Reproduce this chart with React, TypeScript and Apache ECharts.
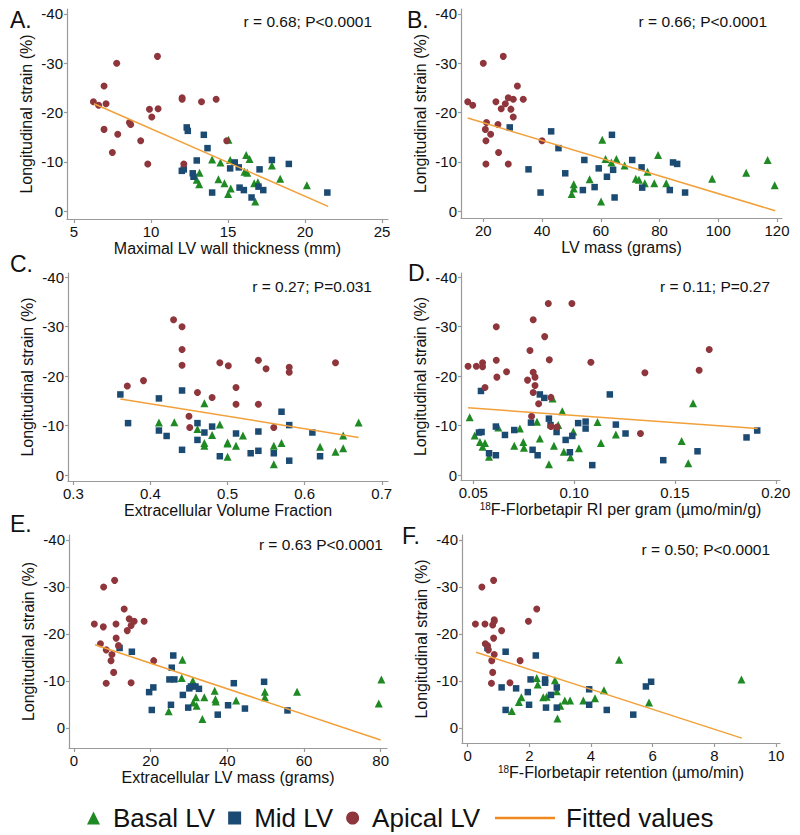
import { useEffect, useRef } from "react";
import * as echarts from "echarts";

// ---------- DATA (x, longitudinal strain %) ----------
const yTicks = [-40, -30, -20, -10, 0];

const aXTicks = [5, 10, 15, 20, 25];
const aBasal = [[13.15,-7.8],[12.97,-6.4],[13.13,-5.5],[13.97,-10.5],[14.38,-6.5],[14.51,-9.9],[14.77,-5.7],[15.01,-3.5],[15.18,-4.6],[15.14,-10.4],[15.03,-14.5],[16.18,-11.4],[16.4,-10.6],[16.07,-8.0],[16.25,-7.8],[16.7,-5.7],[16.94,-5.9],[16.77,-2.0],[17.85,-9.3],[18.39,-6.6],[20.12,-5.3]];
const aMid = [[12.0,-8.2],[12.13,-8.5],[12.32,-17.0],[12.39,-16.3],[12.71,-7.7],[12.76,-7.0],[12.97,-10.3],[13.43,-15.5],[13.67,-12.8],[13.97,-3.8],[15.14,-8.7],[15.44,-9.9],[15.7,-8.9],[15.75,-4.8],[16.03,-4.3],[16.53,-2.8],[16.98,-5.0],[17.05,-8.5],[17.29,-4.3],[17.85,-10.4],[18.95,-9.6],[21.45,-3.8]];
const aApical = [[6.26,-22.2],[6.6,-21.5],[6.95,-25.4],[7.08,-21.8],[6.95,-16.6],[7.77,-30.0],[7.49,-11.9],[7.84,-15.6],[8.6,-18.0],[8.68,-17.6],[9.33,-14.3],[9.79,-9.6],[9.9,-20.7],[10.05,-19.1],[10.46,-20.8],[10.42,-31.4],[12.02,-23.0],[12.02,-22.7],[12.13,-9.6],[13.28,-22.2],[14.23,-22.7],[14.92,-14.3]];
const aFit = [[6.3,-21.8],[21.5,-1.0]];

const bXTicks = [20, 40, 60, 80, 100, 120];
const bBasal = [[50.1,-3.5],[50.8,-4.6],[50.8,-5.5],[56.2,-6.5],[60.5,-14.5],[60.1,-2.0],[61.6,-10.6],[63.6,-9.9],[65.3,-10.6],[68.1,-9.3],[71.9,-6.6],[73.0,-6.4],[75.0,-5.7],[75.9,-8.0],[78.2,-5.7],[79.5,-11.4],[82.3,-5.7],[97.9,-6.6],[109.5,-7.8],[116.8,-10.4],[119.2,-5.3]];
const bMid = [[29.0,-17.0],[35.4,-8.5],[39.5,-3.8],[43.1,-16.2],[45.6,-12.8],[47.9,-7.7],[53.9,-4.3],[54.4,-10.4],[57.9,-4.9],[59.3,-8.7],[62.1,-7.0],[63.8,-15.5],[64.2,-8.4],[64.7,-2.8],[70.7,-10.4],[73.9,-8.9],[74.1,-4.8],[83.5,-4.3],[84.6,-9.9],[86.0,-9.6],[88.7,-3.8]];
const bApical = [[14.7,-22.2],[16.4,-21.5],[20.0,-30.0],[20.7,-16.6],[20.9,-14.3],[20.9,-9.6],[21.1,-18.0],[22.5,-15.6],[24.3,-22.2],[25.0,-17.6],[25.2,-11.9],[26.1,-20.8],[26.8,-31.4],[27.5,-21.8],[28.5,-23.0],[28.5,-9.6],[29.4,-20.7],[30.2,-22.7],[30.2,-19.1],[31.6,-25.4],[33.6,-22.7],[40.0,-14.3]];
const bFit = [[14.7,-18.9],[119.4,-0.1]];

const cXTicks = [0.3, 0.4, 0.5, 0.6, 0.7];
const cBasal = [[0.411,-10.6],[0.431,-10.7],[0.470,-14.5],[0.461,-9.3],[0.470,-6.5],[0.470,-5.9],[0.480,-8.1],[0.490,-10.2],[0.500,-6.6],[0.500,-6.4],[0.500,-3.7],[0.511,-5.9],[0.520,-8.0],[0.560,-5.9],[0.560,-2.2],[0.570,-6.5],[0.620,-5.7],[0.640,-4.7],[0.650,-5.4],[0.650,-8.0],[0.670,-10.6]];
const cMid = [[0.361,-16.3],[0.371,-10.5],[0.411,-15.5],[0.411,-9.0],[0.421,-7.9],[0.441,-17.1],[0.441,-5.1],[0.461,-10.5],[0.461,-7.1],[0.470,-8.6],[0.480,-9.8],[0.490,-3.8],[0.511,-8.4],[0.530,-4.4],[0.540,-8.8],[0.540,-4.9],[0.560,-4.4],[0.570,-12.8],[0.580,-10.1],[0.580,-2.9],[0.610,-8.6],[0.620,-3.8]];
const cApical = [[0.370,-18.0],[0.391,-19.1],[0.430,-31.4],[0.441,-30.0],[0.441,-25.4],[0.441,-22.2],[0.450,-11.9],[0.451,-9.6],[0.461,-16.7],[0.480,-15.7],[0.490,-22.7],[0.501,-22.1],[0.511,-17.7],[0.511,-14.3],[0.540,-23.2],[0.540,-14.3],[0.550,-21.5],[0.560,-9.6],[0.580,-21.8],[0.580,-20.8],[0.640,-22.7]];
const cFit = [[0.361,-15.4],[0.670,-7.6]];

const dXTicks = [0.05, 0.1, 0.15, 0.2];
const dBasal = [[0.0482,-11.7],[0.0507,-8.0],[0.0533,-6.7],[0.0546,-5.7],[0.0558,-6.5],[0.0578,-3.7],[0.0624,-9.6],[0.0703,-5.9],[0.0731,-9.4],[0.0748,-6.7],[0.0751,-5.5],[0.0816,-10.8],[0.0830,-7.4],[0.0875,-2.2],[0.0893,-15.5],[0.0900,-5.9],[0.0921,-10.1],[0.0941,-12.9],[0.0949,-4.7],[0.0982,-3.6],[0.0996,-8.8],[0.1024,-5.4],[0.1116,-10.7],[0.1133,-6.5],[0.1207,-8.2],[0.1533,-6.9],[0.1566,-2.4],[0.1590,-14.5]];
const dMid = [[0.0538,-17.0],[0.0528,-8.6],[0.0541,-8.7],[0.0578,-4.4],[0.0612,-9.8],[0.0612,-4.0],[0.0657,-8.1],[0.0703,-9.1],[0.0794,-5.1],[0.0786,-10.6],[0.0819,-4.0],[0.0830,-16.3],[0.0852,-15.6],[0.0875,-11.4],[0.0883,-10.1],[0.0913,-8.7],[0.0958,-7.1],[0.0979,-4.6],[0.0991,-7.9],[0.1020,-10.5],[0.1057,-10.8],[0.1057,-9.4],[0.1090,-2.0],[0.1177,-16.3],[0.1207,-10.2],[0.1255,-8.4],[0.1442,-3.0],[0.1612,-4.8],[0.1855,-7.6],[0.1908,-9.0]];
const dApical = [[0.0474,-22.0],[0.0515,-22.0],[0.0546,-22.7],[0.0546,-21.9],[0.0558,-17.7],[0.0614,-30.0],[0.0614,-23.2],[0.0617,-19.8],[0.0665,-20.9],[0.0769,-19.2],[0.0781,-25.2],[0.0789,-11.9],[0.0797,-31.4],[0.0797,-20.8],[0.0797,-16.7],[0.0806,-19.8],[0.0806,-18.1],[0.0824,-14.4],[0.0854,-28.0],[0.0872,-34.7],[0.0877,-23.3],[0.0885,-15.7],[0.0885,-9.8],[0.0915,-9.7],[0.0989,-34.7],[0.1083,-22.8],[0.1329,-8.4],[0.1351,-20.7],[0.1620,-21.2],[0.1670,-25.4]];
const dFit = [[0.0474,-13.6],[0.191,-9.4]];

const eXTicks = [0, 20, 40, 60, 80];
const eBasal = [[24.7,-3.5],[28.3,-14.5],[28.1,-10.6],[31.0,-10.0],[31.1,-5.4],[31.8,-6.5],[32.0,-4.7],[33.5,-1.9],[34.0,-6.5],[36.7,-7.9],[36.9,-6.1],[37.0,-5.6],[42.3,-5.8],[49.8,-7.7],[49.8,-6.5],[58.2,-7.7],[79.5,-5.2],[80.2,-10.3]];
const eMid = [[11.9,-17.0],[15.1,-16.2],[19.6,-7.6],[20.3,-3.8],[20.7,-8.6],[24.9,-10.3],[25.3,-4.9],[25.5,-12.8],[25.9,-15.4],[26.2,-10.3],[28.4,-7.0],[29.8,-4.3],[30.1,-8.4],[30.5,-8.8],[31.7,-8.8],[32.6,-8.3],[37.5,-2.8],[40.2,-4.8],[41.7,-9.5],[44.6,-4.1],[49.6,-9.8],[55.7,-3.7]];
const eApical = [[5.3,-22.1],[6.9,-17.9],[7.65,-21.5],[7.74,-30.0],[8.4,-16.6],[8.4,-9.5],[9.65,-14.3],[9.9,-15.6],[10.35,-11.8],[10.6,-31.4],[10.96,-22.1],[11.0,-19.1],[11.6,-17.5],[13.1,-25.3],[13.9,-20.7],[14.4,-23.2],[14.9,-21.8],[14.9,-9.6],[15.7,-22.7],[18.3,-22.7],[20.8,-14.3]];
const eFit = [[5.5,-17.7],[80.0,2.6]];

const fXTicks = [0, 2, 4, 6, 8, 10];
const fBasal = [[1.43,-3.6],[1.66,-5.5],[1.74,-6.5],[2.24,-10.6],[2.27,-9.2],[2.45,-6.5],[2.56,-6.6],[2.83,-10.1],[2.89,-7.8],[2.91,-2.0],[3.0,-4.7],[3.15,-5.8],[3.32,-5.8],[3.75,-5.8],[4.13,-6.3],[4.42,-8.0],[4.91,-14.5],[5.88,-5.4],[8.88,-10.3]];
const fMid = [[0.64,-17.0],[1.23,-16.2],[1.23,-3.8],[1.10,-8.6],[1.57,-8.4],[1.95,-7.6],[1.99,-4.9],[2.04,-10.3],[2.21,-15.4],[2.51,-10.3],[2.51,-9.6],[2.54,-4.3],[2.70,-7.0],[2.89,-8.6],[2.89,-4.3],[3.94,-8.2],[3.94,-4.9],[4.51,-3.8],[5.37,-2.8],[5.78,-8.8],[5.95,-9.8]];
const fApical = [[0.25,-22.1],[0.46,-30.0],[0.56,-22.1],[0.57,-17.9],[0.64,-17.5],[0.67,-16.6],[0.77,-9.5],[0.78,-14.3],[0.81,-11.8],[0.81,-21.9],[0.84,-31.4],[0.86,-23.0],[0.86,-22.7],[0.84,-19.1],[0.86,-15.6],[1.10,-20.7],[1.37,-9.6],[1.70,-14.3],[1.97,-22.7],[2.24,-25.3]];
const fFit = [[0.27,-16.1],[8.89,2.2]];

const seriesNames = ["Basal LV", "Mid LV", "Apical LV", "Fitted values"];

// ---------- STYLE ----------
const FONT = "'Liberation Sans', Arial, Helvetica, sans-serif";
const GREEN = "#1f8a24";
const BLUE = "#1b4a72";
const RED = "#8e363c";
const ORANGE = "#f2a03a";
const AXIS = "#9a9a9a";
const TXT = "#111111";

const panels = [
  { letter: "A.", stat: "r = 0.68; P<0.0001", xName: "Maximal LV wall thickness (mm)",
    grid: { left: 67, top: 9, width: 321, height: 210 }, x: [4.545, 25.39], y: [-41.0, 1.56],
    ticks: aXTicks, dec: 0, data: [aBasal, aMid, aApical, aFit], lp: [10, 20], sp: [372, 21] },
  { letter: "B.", stat: "r = 0.66; P<0.0001", xName: "LV mass (grams)",
    grid: { left: 461, top: 9, width: 321, height: 209 }, x: [12.41, 121.7], y: [-41.0, 1.36],
    ticks: bXTicks, dec: 0, data: [bBasal, bMid, bApical, bFit], lp: [407, 20], sp: [767, 21] },
  { letter: "C.", stat: "r = 0.27; P=0.031", xName: "Extracellular Volume Fraction",
    grid: { left: 68, top: 273, width: 320, height: 208 }, x: [0.2931, 0.7081], y: [-40.87, 1.21],
    ticks: cXTicks, dec: 1, data: [cBasal, cMid, cApical, cFit], lp: [10, 264], sp: [372, 286] },
  { letter: "D.", stat: "r = 0.11; P=0.27", xName: "{sup|18}F-Florbetapir RI per gram (µmo/min/g)",
    grid: { left: 461, top: 273, width: 319, height: 207 }, x: [0.0439, 0.2021], y: [-40.87, 1.01],
    ticks: dXTicks, dec: 2, data: [dBasal, dMid, dApical, dFit], lp: [408, 273], sp: [770, 286] },
  { letter: "E.", stat: "r = 0.63 P<0.0001", xName: "Extracellular LV mass (grams)",
    grid: { left: 69, top: 535, width: 318, height: 213 }, x: [-1.3, 81.66], y: [-41.06, 4.3],
    ticks: eXTicks, dec: 0, data: [eBasal, eMid, eApical, eFit], lp: [10, 524], sp: [383, 544] },
  { letter: "F.", stat: "r = 0.50; P<0.0001", xName: "{sup|18}F-Florbetapir retention (µmo/min)",
    grid: { left: 462, top: 535, width: 318, height: 208 }, x: [-0.185, 10.13], y: [-41.06, 3.24],
    ticks: fXTicks, dec: 0, data: [fBasal, fMid, fApical, fFit], lp: [402, 536], sp: [770, 549] },
];

export default function App() {
  const ref = useRef<HTMLDivElement>(null);
  useEffect(() => {
    const chart = echarts.init(ref.current!, null, { renderer: "svg" });
    const grids: any[] = [];
    const xAxes: any[] = [];
    const yAxes: any[] = [];
    const series: any[] = [];
    const graphics: any[] = [];
    panels.forEach((p, i) => {
      grids.push({ ...p.grid, containLabel: false });
      xAxes.push({
        type: "value", gridIndex: i, min: p.x[0], max: p.x[1],
        splitLine: { show: false },
        axisLine: { onZero: false, lineStyle: { color: AXIS, width: 1.2 } },
        axisTick: { customValues: p.ticks, length: 4, lineStyle: { color: AXIS, width: 1.2 } },
        axisLabel: { customValues: p.ticks, margin: 5, fontSize: 15, color: TXT, fontFamily: FONT,
          formatter: (v: number) => v.toFixed(p.dec) },
        name: p.xName, nameLocation: "middle", nameGap: 21,
        nameTextStyle: { fontSize: 16, color: TXT, fontFamily: FONT, verticalAlign: "top",
          rich: { sup: { fontSize: 10, verticalAlign: "top", lineHeight: 16, fontFamily: FONT, color: TXT } } },
      });
      yAxes.push({
        type: "value", gridIndex: i, min: p.y[0], max: p.y[1], inverse: true,
        splitLine: { show: false },
        axisLine: { onZero: false, lineStyle: { color: AXIS, width: 1.2 } },
        axisTick: { customValues: yTicks, length: 3, lineStyle: { color: AXIS, width: 1.2 } },
        axisLabel: { customValues: yTicks, margin: 4, fontSize: 15, color: TXT, fontFamily: FONT },
        name: "Longitudinal strain (%)", nameLocation: "middle", nameRotate: 90, nameGap: 33,
        nameTextStyle: { fontSize: 16, color: TXT, fontFamily: FONT },
      });
      const [basal, mid, apical, fit] = p.data;
      series.push(
        { type: "scatter", name: seriesNames[0], xAxisIndex: i, yAxisIndex: i, data: basal,
          symbol: "triangle", symbolSize: 8, itemStyle: { color: GREEN, opacity: 1 } },
        { type: "scatter", name: seriesNames[1], xAxisIndex: i, yAxisIndex: i, data: mid,
          symbol: "rect", symbolSize: 6.5, itemStyle: { color: BLUE, opacity: 1 } },
        { type: "scatter", name: seriesNames[2], xAxisIndex: i, yAxisIndex: i, data: apical,
          symbol: "circle", symbolSize: 7, itemStyle: { color: RED, opacity: 1 } },
        { type: "line", name: seriesNames[3], xAxisIndex: i, yAxisIndex: i, data: fit,
          symbol: "none", showSymbol: false, lineStyle: { color: ORANGE, width: 1.5 },
          itemStyle: { color: ORANGE } },
      );
      graphics.push(
        { type: "text", x: p.lp[0], y: p.lp[1],
          style: { text: p.letter, fontSize: 23, fontFamily: FONT, fill: TXT,
            textAlign: "left", textVerticalAlign: "middle" } },
        { type: "text", x: p.sp[0], y: p.sp[1],
          style: { text: p.stat, fontSize: 15.5, fontFamily: FONT, fill: TXT,
            textAlign: "right", textVerticalAlign: "middle" } },
      );
    });

    chart.setOption({
      animation: false,
      backgroundColor: "#ffffff",
      textStyle: { fontFamily: FONT },
      grid: grids,
      xAxis: xAxes,
      yAxis: yAxes,
      series,
      graphic: graphics,
      legend: [
        { data: seriesNames.slice(0, 3), left: 87, top: 805, padding: 0, itemWidth: 13, itemHeight: 13,
          itemGap: 13, selectedMode: false,
          textStyle: { fontSize: 26, color: TXT, fontFamily: FONT, padding: [0, 0, 0, 8] } },
        { data: [{ name: seriesNames[3], icon: "rect", itemStyle: { color: "#f08a1e" } }],
          left: 495, top: 805, padding: 0, itemWidth: 60, itemHeight: 2.5,
          selectedMode: false,
          textStyle: { fontSize: 26, color: TXT, fontFamily: FONT, padding: [0, 0, 0, 6] } },
      ],
    });
    return () => chart.dispose();
  }, []);
  return (
    <div
      ref={ref}
      style={{ position: "absolute", left: 0, top: 0, width: 800, height: 835, background: "#fff" }}
    />
  );
}
